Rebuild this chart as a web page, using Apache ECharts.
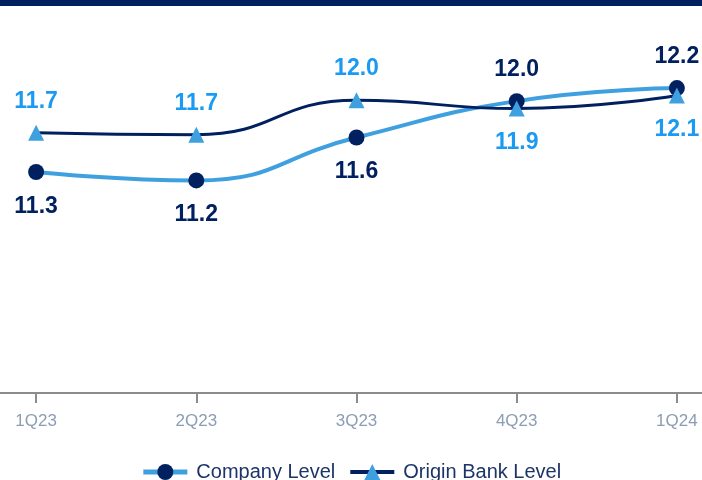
<!DOCTYPE html>
<html>
<head>
<meta charset="utf-8">
<script src="https://cdn.jsdelivr.net/npm/echarts@6/dist/echarts.min.js"></script>
<style>
  html, body { margin: 0; padding: 0; background: #ffffff; }
  #chart { width: 702px; height: 480px; }
</style>
</head>
<body>
<div id="chart"></div>
<script>
const categories = ['1Q23', '2Q23', '3Q23', '4Q23', '1Q24'];
const companyLevel = [11.26, 11.17, 11.63, 12.02, 12.16];
const originBankLevel = [11.68, 11.66, 12.03, 11.94, 12.08];
const seriesNames = ['Company Level', 'Origin Bank Level'];

const NAVY = '#002060';
const LIGHT = '#3fa0e0';
const LIGHT_LABEL = '#1a9af2';
const FONT = 'Arial, "Liberation Sans", sans-serif';

function labelData(values, others) {
  return values.map((v, i) => {
    const above = v >= others[i];
    return {
      value: v,
      label: {
        position: above ? 'top' : 'bottom',
        distance: above ? 12 : 15
      }
    };
  });
}

const chart = echarts.init(document.getElementById('chart'), null, { renderer: 'canvas' });
chart.setOption({
  animation: false,
  backgroundColor: '#ffffff',
  graphic: [{
    type: 'rect',
    shape: { x: 0, y: 0, width: 702, height: 6 },
    style: { fill: NAVY },
    silent: true
  }],
  grid: {
    left: -44, right: -55, top: 20, bottom: 87,
    containLabel: false, outerBoundsMode: 'none'
  },
  legend: {
    data: [
      { name: seriesNames[0], lineStyle: { width: 5 } },
      { name: seriesNames[1], lineStyle: { width: 4 } }
    ],
    left: 'center',
    top: 457,
    itemWidth: 44,
    itemHeight: 20,
    itemGap: 13,
    textStyle: { fontFamily: FONT, fontSize: 20, color: '#1c3468', padding: [0, 0, 0, 4] }
  },
  xAxis: {
    type: 'category',
    data: categories,
    boundaryGap: true,
    axisLine: { show: true, lineStyle: { color: '#8c8c8c', width: 2 } },
    axisTick: { show: true, alignWithLabel: true, length: 10, lineStyle: { color: '#8c8c8c', width: 2 } },
    axisLabel: { margin: 20, fontFamily: FONT, fontSize: 17, color: '#8c9db3' },
    splitLine: { show: false }
  },
  yAxis: {
    type: 'value',
    min: 8.89,
    max: 12.89,
    show: false
  },
  series: [
    {
      name: seriesNames[0],
      type: 'line',
      smooth: true,
      data: labelData(companyLevel, originBankLevel),
      symbol: 'circle',
      symbolSize: 16,
      lineStyle: { color: LIGHT, width: 4 },
      itemStyle: { color: NAVY },
      label: {
        show: true,
        fontFamily: FONT,
        fontSize: 23,
        fontWeight: 'bold',
        color: NAVY,
        formatter: p => p.value.toFixed(1)
      },
      z: 2
    },
    {
      name: seriesNames[1],
      type: 'line',
      smooth: true,
      data: labelData(originBankLevel, companyLevel),
      symbol: 'triangle',
      symbolSize: 16,
      lineStyle: { color: NAVY, width: 3 },
      itemStyle: { color: LIGHT },
      label: {
        show: true,
        fontFamily: FONT,
        fontSize: 23,
        fontWeight: 'bold',
        color: LIGHT_LABEL,
        formatter: p => p.value.toFixed(1)
      },
      z: 3
    }
  ]
});
</script>
</body>
</html>
